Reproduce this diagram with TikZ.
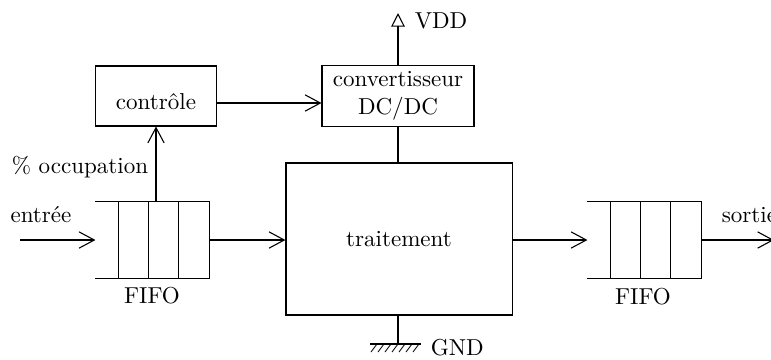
\documentclass[tikz,border=0pt]{standalone}
\usepackage{tikz}
\usetikzlibrary{arrows.meta,calc}

\begin{document}
\begin{tikzpicture}[
  x=0.46pt, y=-0.46pt, line width=0.5pt,
  font=\fontsize{10.6}{12.8}\selectfont,
  arr/.style={-{Straight Barb[length=7pt, width=7.5pt]}},
  box/.style={draw, inner sep=0pt, align=center},
  fifo/.style={inner sep=0pt, minimum width=52pt, minimum height=35pt}
]
\useasboundingbox (0,0) rectangle (771,359);
\clip (0,0) rectangle (771,359);

% Blocks
\node[box, minimum width=55.7pt, minimum height=27.6pt,
      text height=12.5pt, text depth=0pt] (ctrl) at (156,96) {contrôle};
\node[box, minimum width=69.9pt, minimum height=28.1pt] (conv) at (398,96) {convertisseur\\DC/DC};
\node[box, minimum width=104pt, minimum height=69.9pt] (trait) at (399,239) {traitement};

% FIFOs
\node[fifo] (fifoin) at (152.5,240) {};
\node[fifo] (fifoout) at (644.5,240) {};
\foreach \f in {fifoin,fifoout} {
  \draw (\f.north west) -- (\f.north east) -- (\f.south east) -- (\f.south west);
  \foreach \dx in {23,53,83}
    \draw ($(\f.north west)+(\dx,0)$) -- ($(\f.south west)+(\dx,0)$);
}
\node at (152,296) {FIFO};
\node at (643,297) {FIFO};

% Data path
\coordinate (in) at (20,240);
\coordinate (out) at (774,240);
\draw[arr] (in) -- (fifoin.west);
\draw[arr] (fifoin.east) -- (fifoin.east -| trait.west);
\draw[arr] (fifoout.west -| trait.east) -- (fifoout.west);
\draw[arr] (fifoout.east) -- (out);
\node (entree) at (41,215) {entrée};
\node[anchor=west] (sortie) at (714,215) {sortie};

% Control loop
\draw[arr] (ctrl.south |- fifoin.north) -- (ctrl.south);
\node (occ) at (80,167) {\% occupation};
\draw[arr] ($(ctrl.east)+(0,7)$) -- ($(conv.west)+(0,7)$);
\draw (conv.south) -- (conv.south |- trait.north);

% Supply
\coordinate (vdd) at (398,13);
\draw[-{Triangle[open, length=6.3pt, width=6.3pt]}] (conv.north) -- (vdd);
\node[anchor=west] at (407,21) {VDD};
\coordinate (gnd) at (398,344);
\draw (trait.south -| gnd) -- (gnd);
\draw (370,344) -- (421,344);
\foreach \x in {377,384,...,421}
  \draw[line width=0.4pt] (\x,344) -- (\x-6,352);
\node[anchor=west] at (423,348) {GND};

\end{tikzpicture}
\end{document}
